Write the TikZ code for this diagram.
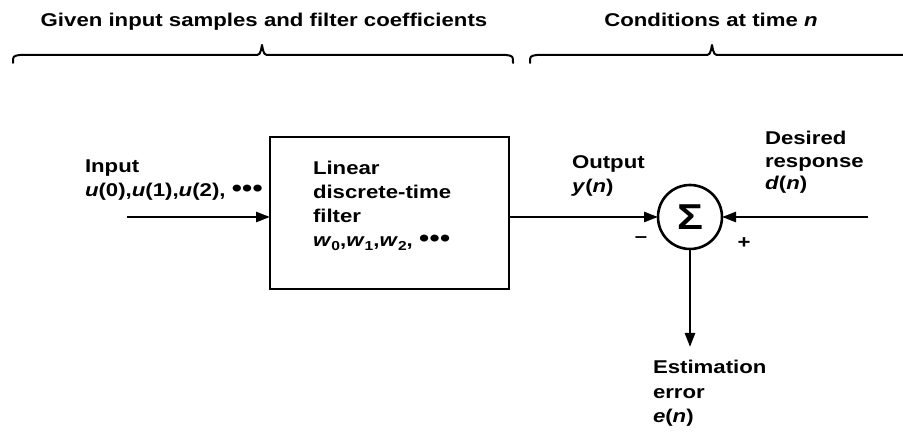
\documentclass[tikz,border=0pt]{standalone}
\usepackage{fontspec}
\setmainfont{Liberation Sans}[FakeStretch=1.2]
\usetikzlibrary{arrows.meta}
\newcommand\lbl{\fontsize{18.5}{24.5}\selectfont\bfseries}
\newcommand\subw[1]{\raisebox{-0.35ex}{\fontsize{13}{13}\selectfont #1}}
\newcommand\tdots{\raisebox{0.05ex}{\scalebox{1.3}{•\kern0.3pt•\kern0.3pt•}}}
\begin{document}
\begin{tikzpicture}[x=1pt,y=-1pt,
  every node/.style={inner sep=0pt, outer sep=0pt},
  txt/.style={font=\lbl, anchor=base west, align=left},
  wire/.style={line width=2.6pt},
  arr/.style={wire, -{Triangle[length=14pt,width=10pt]}},
  brace/.style={line width=2pt, line cap=round, line join=round}]
\useasboundingbox (0,0) rectangle (903,446);

\node[txt, anchor=base] (t1) at (264,27) {Given input samples and filter coefficients};
\node[txt, anchor=base] (t2) at (711,27) {Conditions at time \textit{n}};

\draw[brace] (13,63) .. controls (13,56) .. (20,55) -- (254,55)
  .. controls (260,55) .. (262,45) .. controls (264,55) .. (270,55)
  -- (506,55) .. controls (513,56) .. (513,63);
\draw[brace] (530,63) .. controls (530,56) .. (537,55) -- (704,55)
  .. controls (710,55) .. (712,45) .. controls (714,55) .. (720,55)
  -- (903,55);

\node[draw, line width=2.6pt, minimum width=239pt, minimum height=152pt] (filt) at (389.5,213) {};
\node[txt, font=\fontsize{18.5}{24}\selectfont\bfseries] (ftxt) at (313,247) {Linear\\discrete-time\\filter\\\textit{w}\subw{0},\textit{w}\subw{1},\textit{w}\subw{2}, \tdots};

\coordinate (in) at (127,217);
\draw[arr] (in) -- (filt.west |- in);
\node[txt] (inl) at (85,197) {Input\\\textit{u}(0),\textit{u}(1),\textit{u}(2), \tdots};

\node[circle, draw, line width=2.6pt, minimum size=64pt] (sum) at (690,217) {\fontsize{36}{36}\selectfont\bfseries Σ};
\draw[arr] (filt.east |- sum.west) -- (sum.west);
\node[txt] (outl) at (572,193) {Output\\\textit{y}(\textit{n})};

\coordinate (d) at (868,217);
\draw[arr] (d) -- (sum.east);
\node[txt, font=\fontsize{18.5}{22.5}\selectfont\bfseries] (dl) at (765,190) {Desired\\response\\\textit{d}(\textit{n})};

\node[font=\lbl] (minus) at (641,240) {–};
\node[font=\lbl] (plus) at (744,243) {+};

\coordinate (e) at (690,347);
\draw[arr] (sum.south) -- (e);
\node[txt] (el) at (653,423) {Estimation\\error\\\textit{e}(\textit{n})};
\end{tikzpicture}
\end{document}
